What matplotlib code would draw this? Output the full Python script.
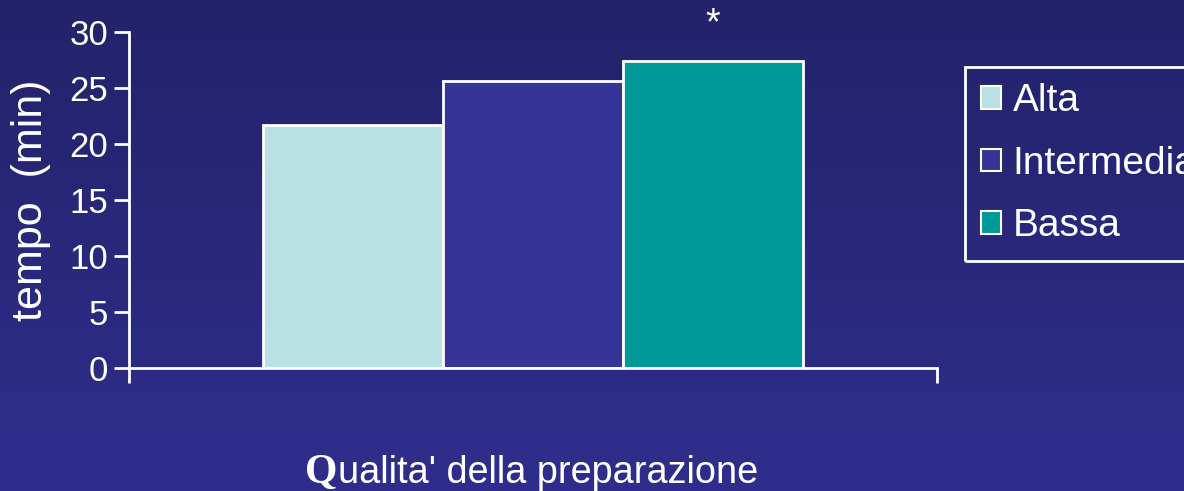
import numpy as np
import matplotlib.pyplot as plt
from matplotlib.patches import Patch

# data
categorie = ["Alta", "Intermedia", "Bassa"]
tempo_min = [21.7, 25.6, 27.4]
colori = ["#b9e0e2", "#353597", "#009999"]
yticks = [0, 5, 10, 15, 20, 25, 30]
asterisco_y = 30.7

plt.rcParams['font.family'] = ['Liberation Sans', 'DejaVu Sans']

fig = plt.figure(figsize=(11.84, 4.91), dpi=100)

# gradient background
bg = fig.add_axes([0, 0, 1, 1], zorder=-10)
grad = np.linspace(0, 1, 256).reshape(-1, 1)
top = np.array([35, 34, 106]) / 255
bot = np.array([47, 46, 140]) / 255
img = top + (bot - top) * grad[:, :, None]
bg.imshow(img, aspect='auto', extent=[0, 1, 0, 1])
bg.axis('off')

ax = fig.add_axes([129/1184, 1 - 368/491, (937-129)/1184, (368-32)/491])
ax.patch.set_alpha(0)

w = 0.2228
xs = [0.5 - w, 0.5, 0.5 + w]
bars = ax.bar(xs, tempo_min, width=w, color=colori, edgecolor='white', linewidth=2)

ax.text(xs[2], asterisco_y, "*", color='white', fontsize=27, ha='center', va='center',
        clip_on=False)

ax.set_xlim(0, 1)
ax.set_ylim(0, 30)
ax.set_yticks(yticks)
ax.set_xticks([0, 1])
ax.set_xticklabels([])
for s in ['top', 'right']:
    ax.spines[s].set_visible(False)
for s in ['left', 'bottom']:
    ax.spines[s].set_color('white')
    ax.spines[s].set_linewidth(2)
ax.tick_params(colors='white', direction='out', length=11, width=2, labelsize=25, pad=4)
ax.set_ylabel("tempo  (min)", color='white', fontsize=31, labelpad=13)

handles = [Patch(facecolor=c, edgecolor='white', linewidth=1.5) for c in colori]
leg = ax.legend(handles, categorie, loc='upper left',
                bbox_to_anchor=(965/1184, 1 - 67/491), bbox_transform=fig.transFigure,
                fontsize=28, frameon=True, fancybox=False, framealpha=1,
                borderaxespad=0, borderpad=0.42, handlelength=0.5, handleheight=0.5,
                handletextpad=0.3, labelspacing=0.68)
leg.get_frame().set_facecolor('none')
leg.get_frame().set_edgecolor('white')
leg.get_frame().set_linewidth(2)
for t in leg.get_texts():
    t.set_color('white')

# x label: serif Q then sans text
fig.text(305/1184, 1 - 483/491, "Q", family='Liberation Serif', fontsize=30,
         weight='bold', color='white', ha='left', va='baseline')
fig.text(338/1184, 1 - 483/491, "ualita' della preparazione", fontsize=27.3,
         color='white', ha='left', va='baseline')

fig.savefig("out.png", dpi=100)
